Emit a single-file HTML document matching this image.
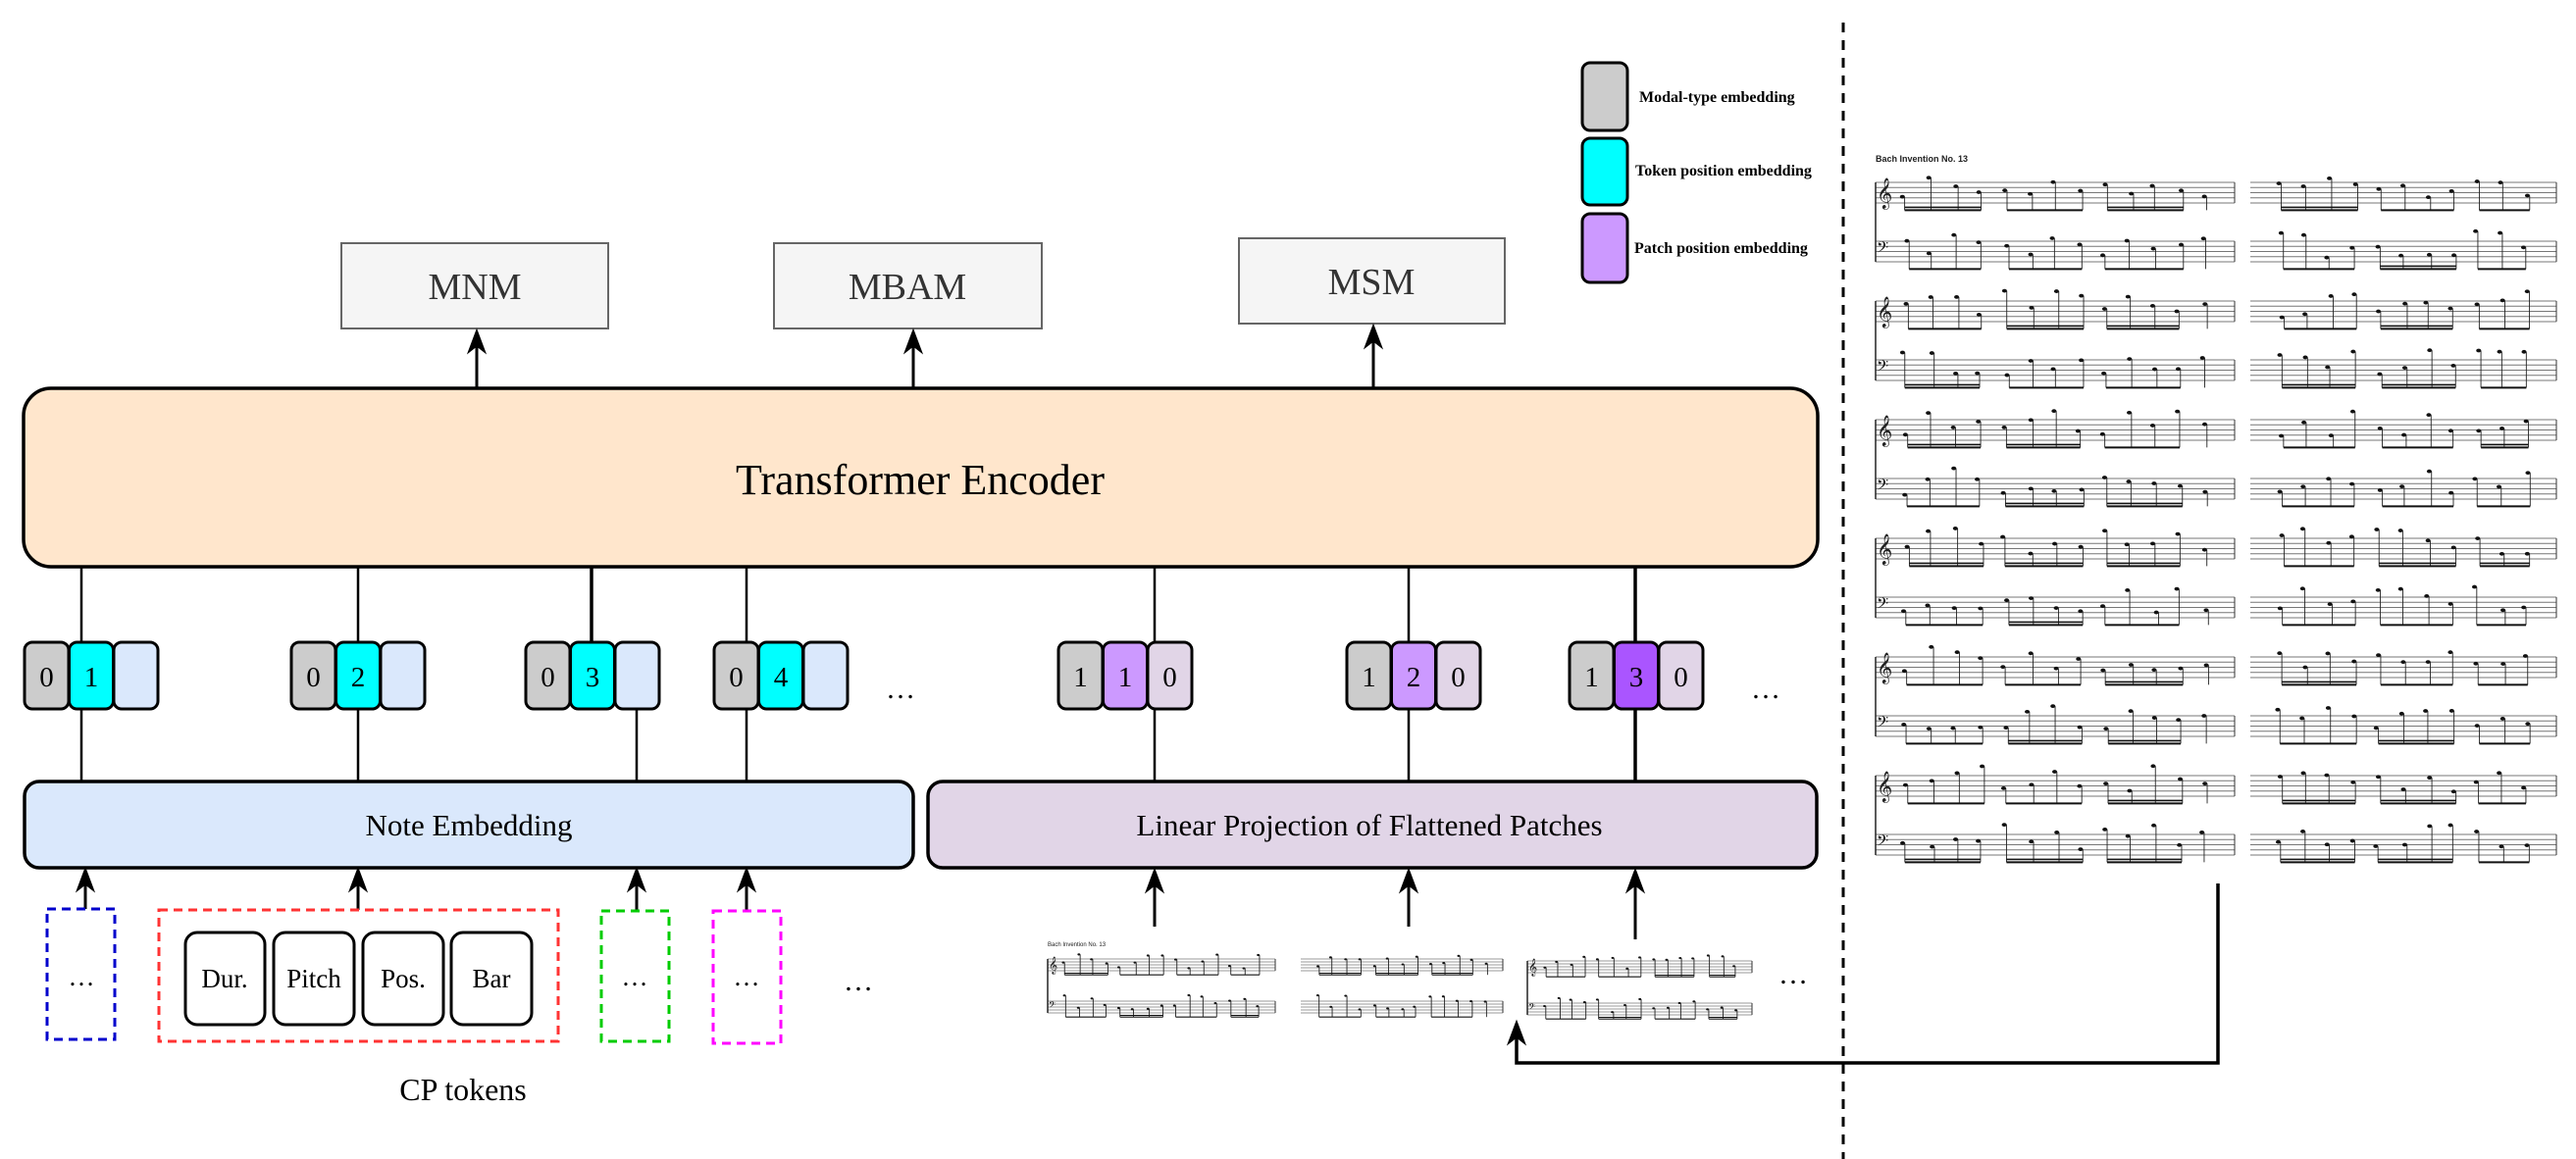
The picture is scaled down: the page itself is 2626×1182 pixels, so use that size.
<!DOCTYPE html>
<html><head><meta charset="utf-8"><style>
html,body{margin:0;padding:0;background:#fff;}
svg{display:block;}
.s{font-family:"Liberation Serif",serif;}
</style></head><body>
<svg id="svg" width="2626" height="1182" viewBox="0 0 2626 1182" xmlns="http://www.w3.org/2000/svg">
<rect width="2626" height="1182" fill="#fff"/>

<!-- legend -->
<rect x="1613" y="64" width="46" height="69" rx="8" fill="#cccccc" stroke="#000" stroke-width="3"/>
<rect x="1613" y="141" width="46" height="68" rx="8" fill="#00ffff" stroke="#000" stroke-width="3"/>
<rect x="1613" y="218" width="46" height="70" rx="8" fill="#cc99ff" stroke="#000" stroke-width="3"/>
<g class="s" font-size="16" font-weight="bold" fill="#000">
<text x="1671" y="104">Modal-type embedding</text>
<text x="1667" y="179">Token position embedding</text>
<text x="1666" y="258">Patch position embedding</text>
</g>

<!-- output boxes -->
<g stroke="#666" stroke-width="2" fill="#f5f5f5">
<rect x="348" y="248" width="272" height="87"/>
<rect x="789" y="248" width="273" height="87"/>
<rect x="1263" y="243" width="271" height="87"/>
</g>
<g class="s" font-size="38" fill="#333" text-anchor="middle">
<text x="484" y="305">MNM</text>
<text x="925" y="305">MBAM</text>
<text x="1398" y="300">MSM</text>
</g>

<!-- transformer -->
<rect x="24" y="396" width="1829" height="182" rx="28" fill="#ffe6cc" stroke="#000" stroke-width="3.5"/>
<text class="s" x="938" y="504" font-size="44" text-anchor="middle">Transformer Encoder</text>

<!-- bottom boxes -->
<rect x="25" y="797" width="906" height="88" rx="15" fill="#dae8fc" stroke="#000" stroke-width="3.5"/>
<text class="s" x="478" y="852" font-size="31" text-anchor="middle">Note Embedding</text>
<rect x="946" y="797" width="906" height="88" rx="15" fill="#e1d5e7" stroke="#000" stroke-width="3.5"/>
<text class="s" x="1396" y="852" font-size="31" text-anchor="middle">Linear Projection of Flattened Patches</text>

<g id="lines" stroke="#000" stroke-width="2.5" fill="none"></g>
<g id="cells"></g>
<g id="arrows" fill="#000" stroke="#000"></g>

<g class="s" font-size="30" text-anchor="middle">
<text x="918" y="712">…</text>
<text x="1800" y="712">…</text>
<text x="875" y="1010">…</text>
<text x="1828" y="1003">…</text>
</g>

<!-- CP tokens -->
<g fill="none" stroke-width="3" stroke-dasharray="9 6">
<rect x="48" y="927" width="69" height="133" stroke="#0000cc"/>
<rect x="162" y="928" width="407" height="134" stroke="#ff3333"/>
<rect x="613" y="929" width="69" height="133" stroke="#00cc00"/>
<rect x="727" y="929" width="69" height="135" stroke="#ff00ff"/>
</g>
<g fill="#fff" stroke="#000" stroke-width="3">
<rect x="189" y="951" width="81" height="94" rx="12"/>
<rect x="279" y="951" width="82" height="94" rx="12"/>
<rect x="370" y="951" width="82" height="94" rx="12"/>
<rect x="460" y="951" width="82" height="94" rx="12"/>
</g>
<g class="s" font-size="27" text-anchor="middle">
<text x="229" y="1007">Dur.</text>
<text x="320" y="1007">Pitch</text>
<text x="411" y="1007">Pos.</text>
<text x="501" y="1007">Bar</text>
<text x="83" y="1005">…</text>
<text x="647" y="1005">…</text>
<text x="761" y="1005">…</text>
<text x="472" y="1122" font-size="32">CP tokens</text>
</g>

<!-- dashed divider -->
<line x1="1879" y1="23" x2="1879" y2="1182" stroke="#000" stroke-width="3" stroke-dasharray="10 8"/>
<!-- connector -->
<path d="M2261 901 V1084 H1546 V1050" fill="none" stroke="#000" stroke-width="3.5"/>

<g id="sheet"></g>
<text x="1912" y="165" font-family="Liberation Sans,sans-serif" font-size="9" font-weight="bold" fill="#222">Bach  Invention No. 13</text>
<text x="1068" y="965" font-family="Liberation Sans,sans-serif" font-size="6" fill="#222">Bach  Invention No. 13</text>
</svg>
<script>
var NS="http://www.w3.org/2000/svg";
function el(p,t,a){var e=document.createElementNS(NS,t);for(var k in a)e.setAttribute(k,a[k]);p.appendChild(e);return e;}
var L=document.getElementById('lines'),C=document.getElementById('cells'),A=document.getElementById('arrows'),S=document.getElementById('sheet');
function vl(x,y1,y2,w){el(L,'line',{x1:x,y1:y1,x2:x,y2:y2,'stroke-width':w||2.5});}
function arrow(x,y1,y2){
 el(A,'line',{x1:x,y1:y1,x2:x,y2:y2+14,'stroke-width':3});
 el(A,'path',{d:'M'+x+' '+y2+' L'+(x-9)+' '+(y2+24)+' L'+x+' '+(y2+17)+' L'+(x+9)+' '+(y2+24)+' Z','stroke-width':1});
}
arrow(486,396,336);arrow(931,396,336);arrow(1400,396,331);
var groups=[
 [25,['0','1',''],['#cccccc','#00ffff','#dae8fc'],83,83],
 [297,['0','2',''],['#cccccc','#00ffff','#dae8fc'],365,365],
 [536,['0','3',''],['#cccccc','#00ffff','#dae8fc'],603,649],
 [728,['0','4',''],['#cccccc','#00ffff','#dae8fc'],761,761],
 [1079,['1','1','0'],['#cccccc','#cc99ff','#e1d5e7'],1177,1177],
 [1373,['1','2','0'],['#cccccc','#cc99ff','#e1d5e7'],1436,1436],
 [1600,['1','3','0'],['#cccccc','#aa55ff','#e1d5e7'],1667,1667]];
groups.forEach(function(g){
 vl(g[3],578,656,g[3]==603||g[3]==1667?3.5:2.5);vl(g[4],722,797,g[4]==1667?3.5:2.5);
 for(var i=0;i<3;i++){var x=g[0]+i*45.5;
  el(C,'rect',{x:x,y:655,width:45,height:68,rx:8,fill:g[2][i],stroke:'#000','stroke-width':3});
  if(g[1][i]){var t=el(C,'text',{x:x+22.5,y:700,'font-size':29,'text-anchor':'middle','font-family':'Liberation Serif,serif'});t.textContent=g[1][i];}
 }
});
arrow(87,927,885);arrow(365,928,885);arrow(649,929,885);arrow(761,929,885);
arrow(1177,945,886);arrow(1436,945,886);arrow(1667,958,886);arrow(1546,1084,1041);
var seed=7;function rnd(){seed=(seed*16807)%2147483647;return seed/2147483647;}
function staff(x,y,w,h){
 var g=h/4;
 for(var i=0;i<5;i++)el(S,'line',{x1:x,y1:y+i*g,x2:x+w,y2:y+i*g,stroke:'#777','stroke-width':h>15?1:0.7});
 el(S,'line',{x1:x+w,y1:y,x2:x+w,y2:y+h,stroke:'#333','stroke-width':1});
 var n=Math.floor(w/(h*1.25)),nx=x+h*1.3,step=(w-h*1.7)/n;
 var grp=[];
 for(var i=0;i<n;i++){
  var px=nx+i*step+rnd()*step*0.2,py=y+(rnd()*1.3-0.5)*h;
  el(S,'ellipse',{cx:px,cy:py,rx:h*0.12,ry:h*0.09,fill:'#111'});
  var sx=px+h*0.11,sy=y+h*1.35;
  if(sy<py+h*0.5)sy=py+h*0.6;
  el(S,'line',{x1:sx,y1:py,x2:sx,y2:sy,stroke:'#222','stroke-width':0.9});
  grp.push([sx,sy]);
  if(grp.length==4||i==n-1){
   if(grp.length>1){
   el(S,'line',{x1:grp[0][0],y1:grp[0][1],x2:grp[grp.length-1][0],y2:grp[grp.length-1][1],stroke:'#111','stroke-width':h>15?2:1.2});
   if(rnd()>0.5)el(S,'line',{x1:grp[0][0],y1:grp[0][1]-h*0.14,x2:grp[grp.length-1][0],y2:grp[grp.length-1][1]-h*0.14,stroke:'#111','stroke-width':h>15?1.6:1});}
   grp=[];
  }
 }
}
function system(x,y,w,h,off,first){
 staff(x,y,w,h);staff(x,y+off,w,h);
 if(first){el(S,'line',{x1:x,y1:y,x2:x,y2:y+off+h,stroke:'#222','stroke-width':1.5});
  var t=el(S,'text',{x:x+1,y:y+h*0.95,'font-size':h*1.3,'font-family':'DejaVu Sans,sans-serif',fill:'#222'});t.textContent='\u{1D11E}';
  var t2=el(S,'text',{x:x+1,y:y+off+h*0.7,'font-size':h*0.9,'font-family':'DejaVu Sans,sans-serif',fill:'#222'});t2.textContent='\u{1D122}';}
}
for(var r=0;r<6;r++){var y=186+r*121;
 system(1912,y,366,21,60,true);system(2294,y,312,21,60,false);}
system(1068,978,232,12,43,true);
system(1326,978,206,12,43,false);
system(1557,980,229,12,43,true);
</script>
</body></html>
